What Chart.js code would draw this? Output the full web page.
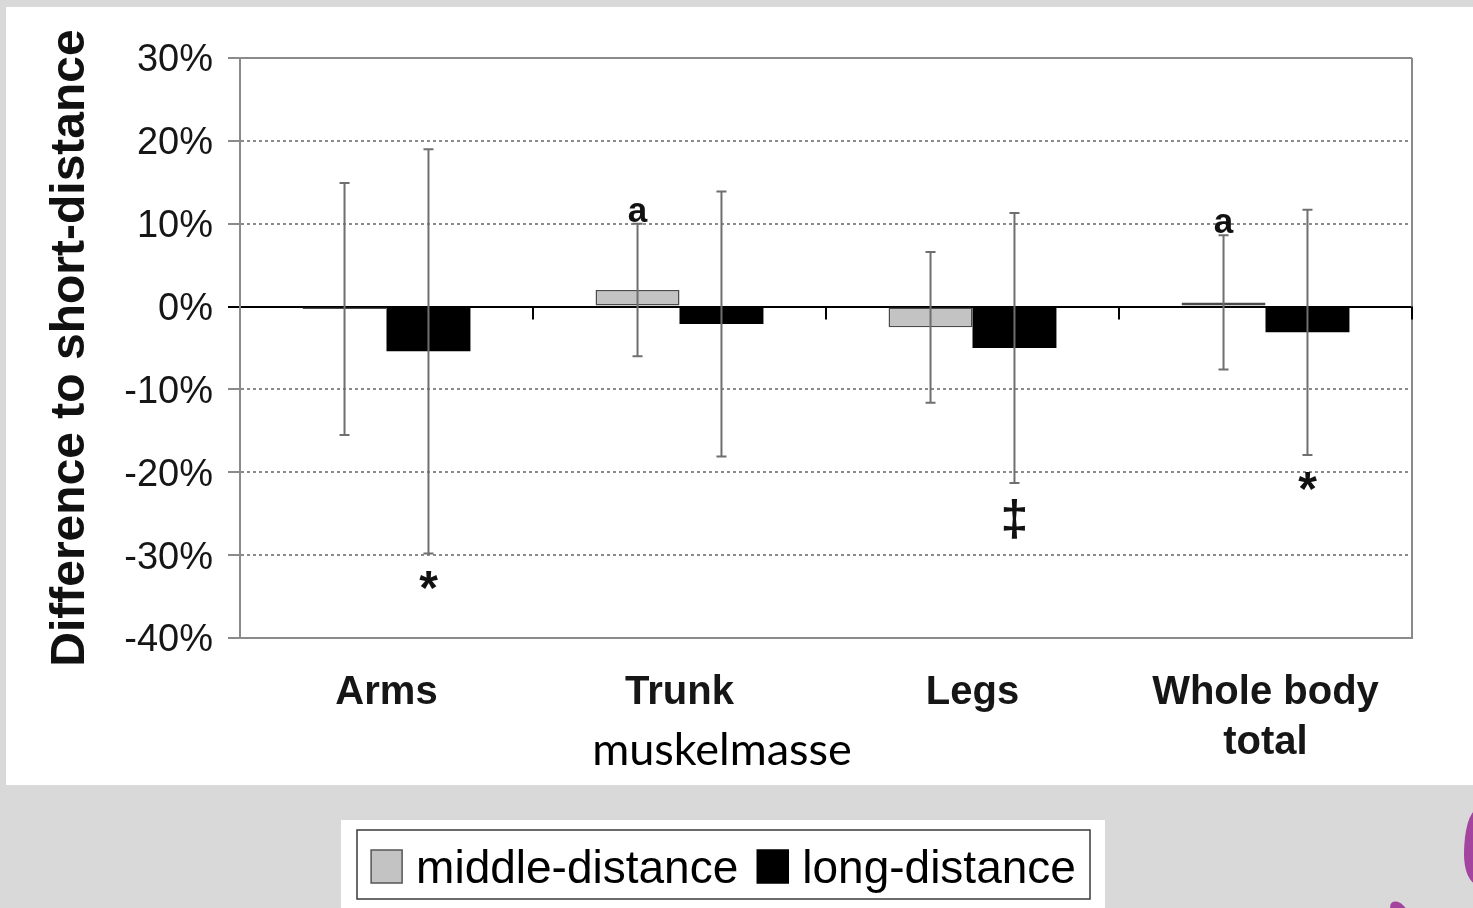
<!DOCTYPE html>
<html>
<head>
<meta charset="utf-8">
<script src="https://cdn.jsdelivr.net/npm/chart.js@4.4.1/dist/chart.umd.min.js"></script>
<style>
  html, body { margin: 0; padding: 0; background: #d9d9d9; overflow: hidden; }
  #stage { position: relative; width: 1473px; height: 908px; }
  #panel { position: absolute; left: 6px; top: 7px; width: 1467px; height: 778px; background: #ffffff; }
  #chart { position: absolute; left: 0; top: 0; }
  .logo { position: absolute; background: #a3449f; }
</style>
</head>
<body>
<div id="stage">
  <div id="panel"></div>
  <div class="logo" style="left:1464px; top:810px; width:26px; height:74px; border-radius:50% 50% 50% 50% / 60% 60% 40% 40%;"></div>
  <div class="logo" style="left:1392px; top:900px; width:14px; height:22px; border-radius:50%; transform:rotate(-40deg);"></div>
  <canvas id="chart" width="1473" height="908"></canvas>
</div>
<script>
// Body-composition differences (muscle mass) relative to short-distance runners
const categories = ['Arms', 'Trunk', 'Legs', ['Whole body', 'total']];
const seriesNames = ['middle-distance', 'long-distance'];
const middleDistance = [-0.3, 2.0, -2.5, 0.5];
const longDistance = [-5.4, -2.1, -5.0, -3.1];
const middleSD = [15.2, 8.0, 9.1, 8.1];
const longSD = [24.4, 16.0, 16.3, 14.8];
const middleMarks = ['', 'a', '', 'a'];     // shown above the upper whisker
const longMarks = ['*', '', '\u2021', '*'];  // shown below the lower whisker
const yMin = -40, yMax = 30, yStep = 10;

const SANS = '"Liberation Sans", Arial, Helvetica, sans-serif';
const GRID_GREY = '#8a8a8a';

// whiskers and significance marks
const errorBars = {
  id: 'errorBars',
  afterDatasetsDraw(chart) {
    const { ctx } = chart;
    const y = chart.scales.y;
    chart.data.datasets.forEach((ds, di) => {
      const meta = chart.getDatasetMeta(di);
      meta.data.forEach((bar, i) => {
        const v = ds.data[i];
        const sd = ds.sd[i];
        const yTop = y.getPixelForValue(v + sd);
        const yBot = y.getPixelForValue(v - sd);
        ctx.save();
        ctx.strokeStyle = '#6f6f6f';
        ctx.lineWidth = 2;
        ctx.beginPath();
        ctx.moveTo(bar.x, yTop); ctx.lineTo(bar.x, yBot);
        ctx.moveTo(bar.x - 5, yTop); ctx.lineTo(bar.x + 5, yTop);
        ctx.moveTo(bar.x - 5, yBot); ctx.lineTo(bar.x + 5, yBot);
        ctx.stroke();
        ctx.fillStyle = '#111';
        ctx.textAlign = 'center';
        ctx.textBaseline = 'alphabetic';
        const above = ds.marksAbove ? ds.marksAbove[i] : '';
        const below = ds.marksBelow ? ds.marksBelow[i] : '';
        if (above) {
          ctx.font = 'bold 35px ' + SANS;
          ctx.fillText(above, bar.x, yTop - 2);
        }
        if (below) {
          const size = below === '*' ? 48 : 50;
          ctx.font = 'bold ' + size + 'px ' + SANS;
          ctx.fillText(below, bar.x, yBot + 16 + 0.72 * size);
        }
        ctx.restore();
      });
    });
  }
};

// right frame, category separator ticks on the zero line, x caption and legend box
const frameAndLegend = {
  id: 'frameAndLegend',
  beforeDatasetsDraw(chart) {
    const { ctx, chartArea } = chart;
    const x = chart.scales.x, y = chart.scales.y;
    ctx.save();
    ctx.strokeStyle = GRID_GREY;
    ctx.lineWidth = 2;
    ctx.beginPath();
    ctx.moveTo(chartArea.right, chartArea.top);
    ctx.lineTo(chartArea.right, chartArea.bottom);
    ctx.stroke();
    const y0 = y.getPixelForValue(0);
    ctx.strokeStyle = '#000';
    ctx.beginPath();
    const n = chart.data.labels.length;
    for (let i = 1; i <= n; i++) {
      const bx = i < n ? (x.getPixelForTick(i - 1) + x.getPixelForTick(i)) / 2 : chartArea.right;
      ctx.moveTo(bx, y0); ctx.lineTo(bx, y0 + 13);
    }
    ctx.stroke();
    ctx.restore();
  },
  afterDraw(chart) {
    const { ctx } = chart;
    ctx.save();
    // axis caption
    ctx.fillStyle = '#000';
    ctx.font = '45px Lato, "Open Sans", sans-serif';
    ctx.textAlign = 'center';
    ctx.textBaseline = 'middle';
    ctx.fillText('muskelmasse', 722, 750);

    // legend
    ctx.fillStyle = '#ffffff';
    ctx.fillRect(341, 820, 764, 88);
    ctx.strokeStyle = '#3a3a3a';
    ctx.lineWidth = 1.5;
    ctx.strokeRect(357, 830, 733, 69);
    ctx.font = '46px ' + SANS;
    ctx.textAlign = 'left';
    ctx.textBaseline = 'alphabetic';
    const boxW = 31, boxH = 33, gapBox = 14, gapItem = 19;
    const items = chart.data.datasets.map(ds => ({
      text: ds.label, fill: ds.backgroundColor,
      w: ctx.measureText(ds.label).width
    }));
    let total = 0;
    items.forEach((it, k) => { total += boxW + gapBox + it.w + (k ? gapItem : 0); });
    let cx = 723.5 - total / 2;
    items.forEach((it, k) => {
      if (k) cx += gapItem;
      ctx.fillStyle = it.fill;
      ctx.fillRect(cx, 850, boxW, boxH);
      ctx.strokeStyle = k === 0 ? '#555' : '#000';
      ctx.lineWidth = 1.5;
      ctx.strokeRect(cx, 850, boxW, boxH);
      cx += boxW + gapBox;
      ctx.fillStyle = '#000';
      ctx.fillText(it.text, cx, 883);
      cx += it.w;
    });
    ctx.restore();
  }
};

const keyValue = v => v === 0 || v === yMax || v === yMin;

new Chart(document.getElementById('chart'), {
  type: 'bar',
  data: {
    labels: categories,
    datasets: [
      {
        label: seriesNames[0],
        data: middleDistance,
        sd: middleSD,
        marksAbove: middleMarks,
        backgroundColor: '#c3c3c3',
        borderColor: '#4a4a4a',
        borderWidth: 1.5,
        borderSkipped: false
      },
      {
        label: seriesNames[1],
        data: longDistance,
        sd: longSD,
        marksBelow: longMarks,
        backgroundColor: '#000000',
        borderColor: '#000000',
        borderWidth: 0
      }
    ]
  },
  options: {
    responsive: false,
    animation: false,
    devicePixelRatio: 1,
    layout: { padding: { left: 6, top: 58, right: 61, bottom: 0 } },
    datasets: { bar: { categoryPercentage: 0.573, barPercentage: 1.0 } },
    plugins: {
      legend: { display: false },
      tooltip: { enabled: false },
      title: { display: false }
    },
    scales: {
      x: {
        grid: { display: false, drawTicks: false },
        border: { display: true, color: GRID_GREY, width: 2 },
        ticks: {
          color: '#161616',
          padding: 30,
          maxRotation: 0,
          autoSkip: false,
          font: { family: SANS, size: 40, weight: 'bold', lineHeight: 1.25 }
        },
        afterFit: s => { s.height = 270; }
      },
      y: {
        min: yMin,
        max: yMax,
        ticks: {
          stepSize: yStep,
          color: '#161616',
          padding: 15,
          labelOffset: 3,
          font: { family: SANS, size: 38 },
          callback: v => v + '%'
        },
        grid: {
          color: c => (c.tick && c.tick.value === 0) ? '#000000' : GRID_GREY,
          lineWidth: 2,
          tickLength: 12,
          tickWidth: 2,
          tickColor: c => (c.tick && c.tick.value === 0) ? '#000000' : GRID_GREY
        },
        border: {
          display: true,
          color: GRID_GREY,
          width: 2,
          dash: c => (c.tick && !keyValue(c.tick.value)) ? [3, 3] : []
        },
        title: {
          display: true,
          text: 'Difference to short-distance',
          color: '#111',
          padding: { top: 36, bottom: 0 },
          font: { family: SANS, size: 48, weight: 'bold', lineHeight: 1.2 }
        },
        afterFit: s => { s.width = 234; }
      }
    }
  },
  plugins: [frameAndLegend, errorBars]
});
</script>
</body>
</html>
